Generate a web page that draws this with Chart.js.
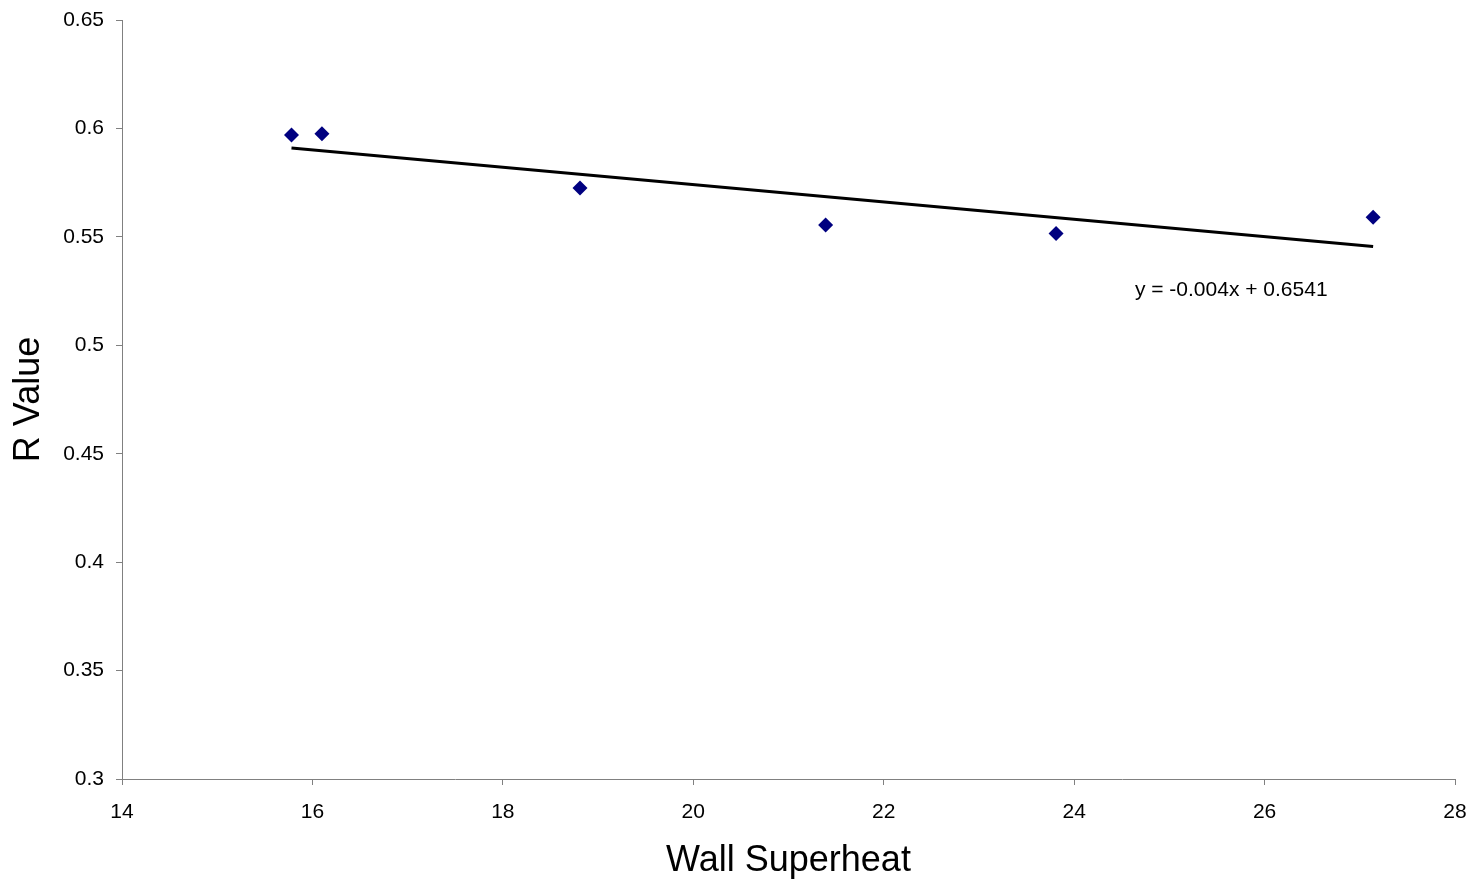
<!DOCTYPE html>
<html>
<head>
<meta charset="utf-8">
<script src="https://cdn.jsdelivr.net/npm/chart.js@4/dist/chart.umd.min.js"></script>
<style>
  html, body { margin: 0; padding: 0; background: #fff; }
  #wrap { width: 1476px; height: 883px; }
</style>
</head>
<body>
<div id="wrap"><canvas id="c" width="1476" height="883"></canvas></div>
<script>
// Measured R values against wall superheat
const superheat = [15.78, 16.10, 18.81, 21.39, 23.81, 27.14];
const rValues = [0.597, 0.5975, 0.5725, 0.5555, 0.5515, 0.559];

// Linear fit shown on the chart
const fitSlope = -0.004;
const fitIntercept = 0.6541;
const fitLabel = 'y = -0.004x + 0.6541';
const fitLabelAt = [25.65, 0.5255];

const xTicks = [14, 16, 18, 20, 22, 24, 26, 28];
const yTicks = [0.3, 0.35, 0.4, 0.45, 0.5, 0.55, 0.6, 0.65];

const xMin = Math.min(...superheat), xMax = Math.max(...superheat);
const fitLine = [xMin, xMax].map(x => ({ x, y: fitSlope * x + fitIntercept }));

const axisGray = '#808080';
const FONT = 'Arial, "Liberation Sans", sans-serif';

const fitLabelPlugin = {
  id: 'fitLabel',
  afterDatasetsDraw(chart) {
    const { ctx, scales } = chart;
    ctx.save();
    ctx.font = '21px ' + FONT;
    ctx.fillStyle = '#000';
    ctx.textAlign = 'center';
    ctx.textBaseline = 'middle';
    ctx.fillText(fitLabel, scales.x.getPixelForValue(fitLabelAt[0]), scales.y.getPixelForValue(fitLabelAt[1]));
    ctx.restore();
  }
};

new Chart(document.getElementById('c'), {
  type: 'scatter',
  data: {
    datasets: [
      {
        label: 'R Value',
        data: superheat.map((x, i) => ({ x, y: rValues[i] })),
        pointStyle: 'rectRot',
        pointRadius: 7.5,
        backgroundColor: '#000080',
        borderColor: '#000080',
        borderWidth: 0
      },
      {
        label: 'Linear fit',
        type: 'line',
        data: fitLine,
        borderColor: '#000',
        borderWidth: 3,
        pointRadius: 0,
        fill: false
      }
    ]
  },
  options: {
    responsive: false,
    animation: false,
    layout: { padding: { top: 20, right: 21, left: 0, bottom: 0 } },
    plugins: { legend: { display: false }, tooltip: { enabled: false } },
    scales: {
      x: {
        type: 'linear',
        min: 14, max: 28,
        afterBuildTicks(scale) { scale.ticks = xTicks.map(v => ({ value: v })); },
        afterFit(scale) {
          scale.height = 104;
          scale.paddingLeft = 0;
          scale.paddingRight = 0;
        },
        grid: { drawOnChartArea: false, drawTicks: true, tickLength: 6, color: axisGray, lineWidth: 1 },
        border: { display: true, color: axisGray, width: 1 },
        ticks: { color: '#000', font: { family: FONT, size: 21 }, padding: 15, maxRotation: 0 },
        title: { display: true, text: 'Wall Superheat', color: '#000', font: { family: FONT, size: 36 }, padding: { top: 8, bottom: 0 } }
      },
      y: {
        type: 'linear',
        min: 0.3, max: 0.65,
        afterBuildTicks(scale) { scale.ticks = yTicks.map(v => ({ value: v })); },
        afterFit(scale) {
          scale.width = 122;
          scale.paddingTop = 0;
          scale.paddingBottom = 0;
        },
        grid: { drawOnChartArea: false, drawTicks: true, tickLength: 6, color: axisGray, lineWidth: 1 },
        border: { display: true, color: axisGray, width: 1 },
        ticks: {
          color: '#000', font: { family: FONT, size: 21 }, padding: 12,
          callback: v => String(parseFloat(Number(v).toFixed(2)))
        },
        title: { display: true, text: 'R Value', color: '#000', font: { family: FONT, size: 36 }, padding: { top: 7, bottom: 4 } }
      }
    }
  },
  plugins: [fitLabelPlugin]
});
</script>
</body>
</html>
